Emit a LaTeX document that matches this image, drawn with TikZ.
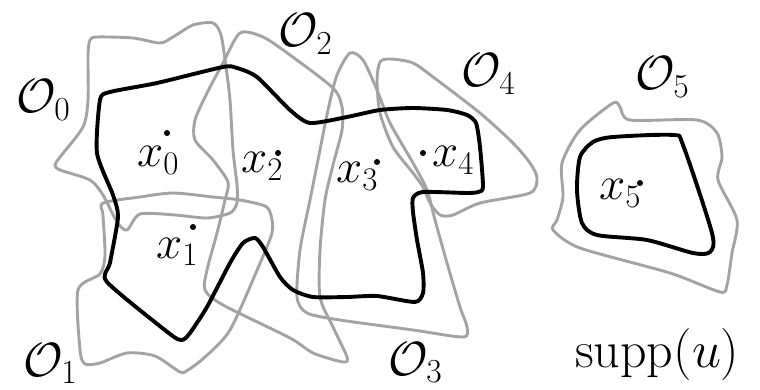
\RequirePackage{fix-cm}
\documentclass[tikz,border=0pt]{standalone}
\usepackage{amsmath, amssymb}

\begin{document}
\begin{tikzpicture}[x=1pt, y=-1pt,
    nbhd/.style={draw=black!36, line width=2.9pt, line join=round},
    suppline/.style={draw=black, line width=3.9pt, line join=round},
    lab/.style={inner sep=0pt, anchor=base west, font=\fontsize{48}{54}\selectfont},
    ptlab/.style={lab, font=\fontsize{47}{52}\selectfont},
    bigl/.style={lab, font=\fontsize{52}{58}\selectfont},
    spot/.style={circle, fill=black, inner sep=0pt, minimum size=6pt}]
  \useasboundingbox (0,0) rectangle (760,390);

  % the neighbourhoods O_0 ... O_5
  \draw[nbhd] plot[smooth cycle, tension=0.45] coordinates {
    (90,40) (97,37) (133,38) (160,43) (173,37) (193,25) (213,23) (221,35)
    (226,67) (230,100) (233,150) (237,185) (237,203) (230,213) (207,218)
    (175,215) (140,214) (127,230) (117,222) (103,195) (90,180) (60,170)
    (55,165) (60,157) (83,127) (88,100) (88,55)};
  \draw[nbhd] plot[smooth cycle, tension=0.45] coordinates {
    (103,203) (140,197) (173,193) (213,197) (240,200) (265,206) (271,215)
    (272,233) (258,268) (230,330) (205,357) (188,370) (180,372) (155,356)
    (127,353) (100,363) (85,364) (80,350) (78,290) (100,274) (105,255)
    (103,215)};
  \draw[nbhd] plot[smooth cycle, tension=0.45] coordinates {
    (240,33) (263,37) (290,55) (333,88) (342,107) (342,130) (333,165)
    (325,200) (320,250) (320,297) (333,327) (347,357) (343,362) (313,353)
    (290,338) (223,305) (205,290) (207,270) (217,233) (225,200) (228,182)
    (213,160) (195,140) (195,120) (207,93) (223,63)};
  \draw[nbhd] plot[smooth cycle, tension=0.45] coordinates {
    (350,53) (363,60) (377,90) (390,123) (413,163) (427,190) (435,220)
    (447,263) (460,307) (467,327) (463,337) (413,330) (340,320) (307,313)
    (297,297) (300,250) (310,200) (318,160) (328,110) (337,75)};
  \draw[nbhd] plot[smooth cycle, tension=0.45] coordinates {
    (380,62) (390,59) (413,63) (437,80) (480,113) (513,143) (530,163)
    (537,178) (530,193) (480,203) (453,215) (440,215) (430,203) (423,187)
    (413,173) (393,147) (380,113) (377,80)};
  \draw[nbhd] plot[smooth cycle, tension=0.45] coordinates {
    (562,163) (580,130) (613,103) (620,107) (630,120) (697,120) (717,133)
    (722,157) (718,180) (737,220) (732,253) (727,285) (720,292) (670,273)
    (580,248) (553,230) (557,220) (563,197)};

  % the support of u
  \draw[suppline] plot[smooth cycle, tension=0.4] coordinates {
    (97,153) (100,100) (110,92) (157,83) (223,67) (237,68) (257,77)
    (290,110) (310,123) (347,117) (380,110) (413,108) (447,110) (467,115)
    (476,123) (480,147) (483,187) (478,192) (467,193) (423,192) (413,198)
    (413,212) (417,240) (423,273) (423,293) (415,302) (377,296) (347,297)
    (313,297) (293,290) (280,277) (263,247) (255,238) (243,243) (230,263)
    (207,307) (190,333) (182,340) (170,334) (107,282) (110,263) (118,217)
    (113,195)};
  \draw[suppline] plot[smooth cycle, tension=0.45] coordinates {
    (577,190) (580,157) (593,142) (613,137) (673,135) (683,145) (712,233)
    (710,252) (693,253) (647,240) (597,235) (582,223)};

  % labels
  \node[lab] (o0) at (16,113) {$\mathcal{O}_0$};
  \node[lab] (o1) at (23,376) {$\mathcal{O}_1$};
  \node[lab] (o2) at (278,47) {$\mathcal{O}_2$};
  \node[lab] (o3) at (388,375) {$\mathcal{O}_3$};
  \node[lab] (o4) at (461,87) {$\mathcal{O}_4$};
  \node[lab] (o5) at (635,90) {$\mathcal{O}_5$};
  \node[ptlab] (x0) at (137,167) {$x_0$};
  \node[ptlab] (x1) at (156,258) {$x_1$};
  \node[ptlab] (x2) at (241,173) {$x_2$};
  \node[ptlab] (x3) at (336,183) {$x_3$};
  \node[ptlab] (x4) at (432,167) {$x_4$};
  \node[ptlab] (x5) at (599,200) {$x_5$};
  \node[bigl] (su) at (575,367) {$\operatorname{supp}(u)$};

  % the points
  \node[spot] (p0) at (167,133) {};
  \node[spot] (p1) at (193,227) {};
  \node[spot] (p2) at (278,153) {};
  \node[spot] (p3) at (377,162) {};
  \node[spot] (p4) at (423,153) {};
  \node[spot] (p5) at (640,183) {};
\end{tikzpicture}
\end{document}
